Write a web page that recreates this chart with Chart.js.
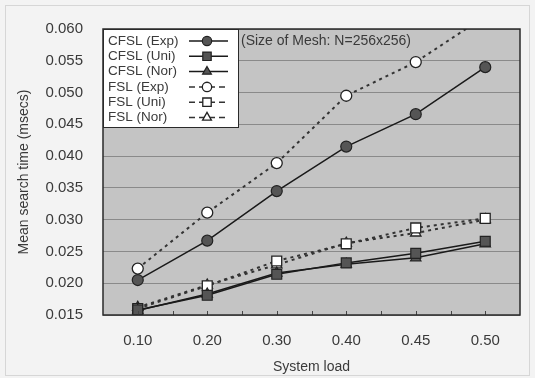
<!DOCTYPE html>
<html>
<head>
<meta charset="utf-8">
<script src="https://cdn.jsdelivr.net/npm/chart.js@4/dist/chart.umd.min.js"></script>
<style>
  html, body { margin: 0; padding: 0; background: #f3f3f3; }
  #wrap { width: 535px; height: 378px; }
</style>
</head>
<body>
<div id="wrap"><canvas id="chart" width="535" height="378"></canvas></div>
<script>
// system load categories (x axis)
const loads = ["0.10", "0.20", "0.30", "0.40", "0.45", "0.50"];

// mean search time (msecs)
const cfslExp = [0.0205, 0.0267, 0.0345, 0.0415, 0.0466, 0.0540];
const cfslUni = [0.0158, 0.0181, 0.0214, 0.0232, 0.0247, 0.0266];
const cfslNor = [0.0157, 0.0183, 0.0216, 0.0230, 0.0240, 0.0262];
const fslExp = [0.0223, 0.0311, 0.0389, 0.0495, 0.0548, 0.0620];
const fslUni = [0.0160, 0.0196, 0.0235, 0.0262, 0.0287, 0.0302];
const fslNor = [0.0162, 0.0197, 0.0229, 0.0263, 0.0279, 0.0300];

const FONT = "'Liberation Sans', Arial, sans-serif";
const TEXT = "#3a3a3a";

function solid(label, data, style, radius) {
  return {
    label, data,
    borderColor: "#1a1a1a", borderWidth: 1.5,
    pointStyle: style, pointRadius: radius,
    pointBackgroundColor: "#555", pointBorderColor: "#222", pointBorderWidth: 1.2,
    tension: 0,
  };
}

function dotted(label, data, style, radius) {
  return {
    label, data,
    borderColor: "#333", borderWidth: 2, borderDash: [3, 4],
    pointStyle: style, pointRadius: radius,
    pointBackgroundColor: "#fff", pointBorderColor: "#222", pointBorderWidth: 1.3,
    tension: 0,
  };
}

// background, frame, inner legend and caption
const decorPlugin = {
  id: "decor",
  beforeDraw(chart) {
    const { ctx, chartArea: a } = chart;
    ctx.save();
    ctx.fillStyle = "#f3f3f3";
    ctx.fillRect(0, 0, chart.width, chart.height);
    ctx.strokeStyle = "#d6d6d6";
    ctx.lineWidth = 1;
    ctx.strokeRect(5.5, 5.5, chart.width - 11, chart.height - 8);
    ctx.fillStyle = "#c4c4c4";
    ctx.fillRect(a.left, a.top, a.right - a.left, a.bottom - a.top);
    ctx.restore();
  },
  afterDraw(chart) {
    const { ctx, chartArea: a } = chart;
    const xs = chart.scales.x;
    ctx.save();

    // small tick marks pointing up from the bottom edge
    ctx.strokeStyle = "#444";
    ctx.lineWidth = 1;
    const step = xs.getPixelForValue(1) - xs.getPixelForValue(0);
    for (let i = 0; i < loads.length; i++) {
      const cx = xs.getPixelForValue(i);
      [cx, cx + step / 2].forEach((px, k) => {
        if (k === 1 && i === loads.length - 1) return;
        ctx.beginPath();
        ctx.moveTo(Math.round(px) + 0.5, a.bottom);
        ctx.lineTo(Math.round(px) + 0.5, a.bottom - 4);
        ctx.stroke();
      });
    }

    // plot frame
    ctx.strokeStyle = "#2a2a2a";
    ctx.lineWidth = 1.5;
    ctx.strokeRect(a.left, a.top, a.right - a.left, a.bottom - a.top);

    // legend box inside the plot
    const bx = a.left, by = a.top, bw = 135, bh = 98;
    ctx.fillStyle = "#fff";
    ctx.fillRect(bx, by, bw, bh);
    ctx.strokeStyle = "#2a2a2a";
    ctx.lineWidth = 1;
    ctx.strokeRect(bx + 0.5, by + 0.5, bw, bh);

    ctx.font = "13.5px " + FONT;
    ctx.textBaseline = "middle";
    ctx.textAlign = "left";
    chart.data.datasets.forEach((ds, i) => {
      const y = by + 12 + i * 15.3;
      ctx.fillStyle = TEXT;
      ctx.fillText(ds.label, bx + 5, y);
      ctx.strokeStyle = ds.borderColor;
      ctx.lineWidth = 1.5;
      ctx.setLineDash(ds.borderDash ? [6, 4] : []);
      ctx.beginPath();
      ctx.moveTo(bx + 86, y);
      ctx.lineTo(bx + 125, y);
      ctx.stroke();
      ctx.setLineDash([]);
      ctx.fillStyle = ds.pointBackgroundColor;
      ctx.strokeStyle = ds.pointBorderColor;
      ctx.lineWidth = ds.pointBorderWidth;
      Chart.helpers.drawPoint(ctx, {
        pointStyle: ds.pointStyle,
        radius: ds.pointRadius * 0.85,
        rotation: 0,
        borderWidth: ds.pointBorderWidth,
      }, bx + 104, y);
    });

    // caption
    ctx.fillStyle = TEXT;
    ctx.font = "14px " + FONT;
    ctx.fillText("(Size of Mesh: N=256x256)", bx + bw + 3, by + 12);
    ctx.restore();
  },
};

new Chart(document.getElementById("chart"), {
  type: "line",
  data: {
    labels: loads,
    datasets: [
      solid("CFSL (Exp)", cfslExp, "circle", 5.5),
      solid("CFSL (Uni)", cfslUni, "rect", 7),
      solid("CFSL (Nor)", cfslNor, "triangle", 6),
      dotted("FSL (Exp)", fslExp, "circle", 5.5),
      dotted("FSL (Uni)", fslUni, "rect", 7),
      dotted("FSL (Nor)", fslNor, "triangle", 6),
    ],
  },
  options: {
    responsive: false,
    animation: false,
    layout: { padding: { left: 6, right: 15, top: 19, bottom: 0 } },
    plugins: {
      legend: { display: false },
      tooltip: { enabled: false },
    },
    scales: {
      x: {
        type: "category",
        offset: true,
        grid: { display: false, drawTicks: false },
        border: { display: false },
        ticks: { color: TEXT, font: { family: FONT, size: 15 }, padding: 17 },
        title: {
          display: true, text: "System load", color: TEXT,
          font: { family: FONT, size: 14 }, padding: { top: 4, bottom: 2 },
        },
        afterFit(scale) { scale.height = 63; },
      },
      y: {
        min: 0.015,
        max: 0.06,
        grid: { color: "#8a8a8a", lineWidth: 1, drawTicks: false },
        border: { display: false },
        ticks: {
          stepSize: 0.005,
          color: TEXT,
          font: { family: FONT, size: 15 },
          padding: 20,
          callback: (v) => Number(v).toFixed(3),
        },
        title: {
          display: true, text: "Mean search time (msecs)", color: TEXT,
          font: { family: FONT, size: 14 }, padding: { top: 10, bottom: 4 },
        },
        afterFit(scale) { scale.width = 97; },
      },
    },
  },
  plugins: [decorPlugin],
});
</script>
</body>
</html>
